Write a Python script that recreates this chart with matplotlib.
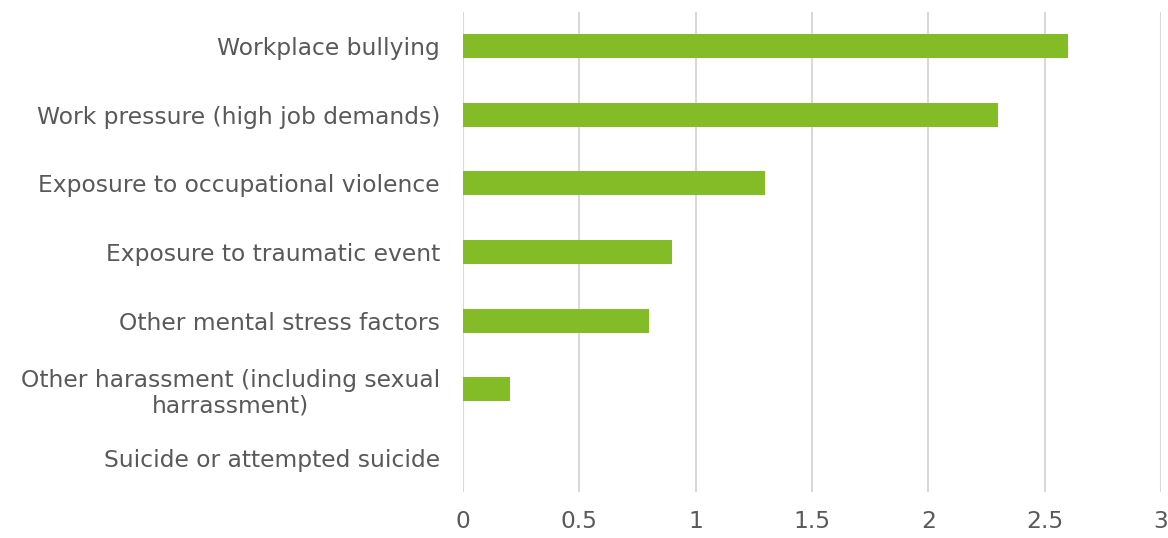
import matplotlib
matplotlib.use("Agg")
import matplotlib.pyplot as plt

categories = [
    "Workplace bullying",
    "Work pressure (high job demands)",
    "Exposure to occupational violence",
    "Exposure to traumatic event",
    "Other mental stress factors",
    "Other harassment (including sexual\nharrassment)",
    "Suicide or attempted suicide",
]
values = [2.6, 2.3, 1.3, 0.9, 0.8, 0.2, 0.0]
xticks = [0, 0.5, 1, 1.5, 2, 2.5, 3]
xtick_labels = ["0", "0.5", "1", "1.5", "2", "2.5", "3"]

BAR = "#84BC28"
GRID = "#D9D9D9"
TEXT = "#595959"

plt.rcParams["font.family"] = ["DejaVu Sans"]

fig = plt.figure(figsize=(11.68, 5.38), dpi=100)
ax = fig.add_axes([0.3964, 0.0849, 0.5976, 0.8933])

ypos = list(range(len(categories)))
ax.barh(ypos, values, height=0.35, color=BAR, zorder=3)

ax.set_xlim(0, 3)
ax.set_ylim(len(categories) - 0.5, -0.5)
ax.set_xticks(xticks)
ax.set_xticklabels(xtick_labels)
ax.set_yticks(ypos)
ax.set_yticklabels(categories, multialignment="center", linespacing=1.15)

ax.grid(axis="x", color=GRID, linewidth=1.5, zorder=0)
for s in ax.spines.values():
    s.set_visible(False)
ax.tick_params(axis="both", length=0, labelsize=16.8, labelcolor=TEXT)
ax.tick_params(axis="y", pad=16.5)
ax.tick_params(axis="x", pad=13)

fig.savefig("out.png", dpi=100)
